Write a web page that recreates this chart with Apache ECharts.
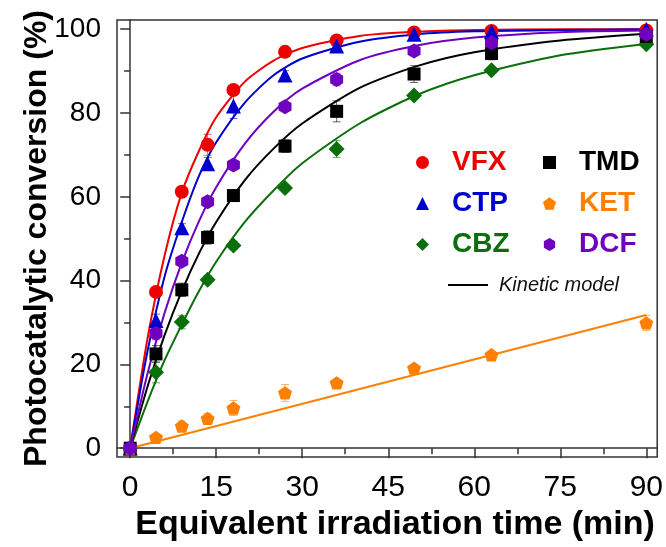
<!DOCTYPE html>
<html>
<head>
<meta charset="utf-8">
<script src="https://cdn.jsdelivr.net/npm/echarts@6/dist/echarts.min.js"></script>
<style>
  html, body { margin: 0; padding: 0; background: #fff; }
  #chart { width: 666px; height: 547px; }
</style>
</head>
<body>
<div id="chart"></div>
<script>
// sampling times (min)
const times = [0, 4.5, 9, 13.5, 18, 27, 36, 49.5, 63, 90]

// measured conversion (%)
const vfx = [0, 37.3, 61.2, 72.4, 85.5, 94.6, 97.3, 99.2, 99.6, 99.7]
const ctp = [0, 30.5, 52.6, 67.9, 81.7, 89.1, 96.0, 98.8, 99.4, 100]
const tmd = [0, 22.5, 37.8, 50.3, 60.3, 72.1, 80.4, 89.3, 94.2, 98.3]
const cbz = [0, 18.1, 30.1, 40.2, 48.4, 62.1, 71.4, 84.2, 90.2, 96.4]
const ket = [0, 2.6, 5.3, 7.1, 9.6, 13.2, 15.6, 19.1, 22.3, 29.9]
const dcf = [0, 27.4, 44.6, 58.8, 67.6, 81.5, 88.0, 94.8, 96.8, 98.8]

// error bars (+/-)
const vfxErr = [0, 0.8, 1, 2.5, 1, 0.6, 0.5, 0.3, 0.3, 0.3]
const ctpErr = [0, 1.5, 1, 1.5, 3, 1, 0.6, 0.3, 0.3, 0.3]
const tmdErr = [0, 2, 1.6, 1.6, 1, 1.5, 2.5, 2, 1.5, 0.5]
const cbzErr = [0, 2.5, 1.6, 1, 1, 0.6, 2, 0.5, 0.5, 0.5]
const ketErr = [0, 0.5, 1.2, 1.2, 1.8, 2, 0.5, 0.5, 0.5, 1.8]
const dcfErr = [0, 1.5, 1, 1, 1, 1, 1.5, 1, 0.5, 0.5]

// kinetic model curves
const modelTimes = [0, 3, 6, 9, 12, 15, 20, 25, 30, 40, 50, 60, 75, 90]
const vfxModel = [0, 26, 46, 61, 71, 79, 87.5, 92.5, 95.5, 98.4, 99.4, 99.8, 100, 100]
const ctpModel = [0, 23, 41, 54, 65, 73, 82.5, 89, 93, 97, 98.8, 99.5, 99.8, 100]
const tmdModel = [0, 14.6, 27, 37.5, 46.5, 54, 64, 71.5, 77.5, 86, 91.2, 94.5, 97.3, 98.9]
const cbzModel = [0, 11, 21, 29.5, 37.5, 44.5, 54, 61.5, 68, 77.5, 84.3, 89, 93.8, 96.5]
const dcfModel = [0, 17.7, 32.3, 44.3, 54.2, 62.3, 72.7, 80.3, 85.8, 92.6, 96.1, 98, 99.3, 99.7]
const ketModelTimes = [0, 90]
const ketModel = [0, 31.8]

// axis ticks
const xTicks = [0, 15, 30, 45, 60, 75, 90]
const xMinorTicks = [7.5, 22.5, 37.5, 52.5, 67.5, 82.5]
const yTicks = [0, 20, 40, 60, 80, 100]
const yMinorTicks = [10, 30, 50, 70, 90]

const FONT = "'Liberation Sans', Arial, sans-serif"
const AXIS_COLOR = '#333'

const pentagon = 'path://M0,-1 L0.951,-0.309 L0.588,0.809 L-0.588,0.809 L-0.951,-0.309 Z'
const hexagon = 'path://M0,-1 L0.866,-0.5 L0.866,0.5 L0,1 L-0.866,0.5 L-0.866,-0.5 Z'

const groups = [
  { name: 'VFX', color: '#ee0000', symbol: 'circle', size: 14, vals: vfx, errs: vfxErr, model: vfxModel },
  { name: 'CTP', color: '#0000cc', symbol: 'triangle', size: 15, vals: ctp, errs: ctpErr, model: ctpModel },
  { name: 'CBZ', color: '#0a6e0a', symbol: 'diamond', size: 16, vals: cbz, errs: cbzErr, model: cbzModel },
  { name: 'TMD', color: '#000000', symbol: 'rect', size: 13, vals: tmd, errs: tmdErr, model: tmdModel },
  { name: 'KET', color: '#ff8000', symbol: pentagon, size: 14, vals: ket, errs: ketErr, model: null },
  { name: 'DCF', color: '#7000c0', symbol: hexagon, size: 15, vals: dcf, errs: dcfErr, model: dcfModel },
]

const errRenderer = (color) => (params, api) => {
  const x = api.value(0)
  const y = api.value(1)
  const e = api.value(2)
  if (!e) return null
  const top = api.coord([x, y + e])
  const bot = api.coord([x, y - e])
  const w = 4
  const style = { stroke: color, lineWidth: 1, opacity: 0.6 }
  return {
    type: 'group',
    children: [
      { type: 'line', shape: { x1: top[0], y1: top[1], x2: bot[0], y2: bot[1] }, style },
      { type: 'line', shape: { x1: top[0] - w, y1: top[1], x2: top[0] + w, y2: top[1] }, style },
      { type: 'line', shape: { x1: bot[0] - w, y1: bot[1], x2: bot[0] + w, y2: bot[1] }, style },
    ],
  }
}

const series = []
groups.forEach((g) => {
  const modelT = g.model ? modelTimes : ketModelTimes
  const modelV = g.model ? g.model : ketModel
  series.push({
    name: g.name + ' model',
    type: 'line',
    data: modelT.map((t, i) => [t, modelV[i]]),
    smooth: g.model ? 0.25 : false,
    showSymbol: false,
    lineStyle: { color: g.color, width: 2 },
    z: 2,
    silent: true,
  })
  series.push({
    name: g.name + ' err',
    type: 'custom',
    renderItem: errRenderer(g.color),
    data: times.map((t, i) => [t, g.vals[i], g.errs[i]]),
    z: 3,
    silent: true,
  })
  series.push({
    name: g.name,
    type: 'scatter',
    symbol: g.symbol,
    symbolSize: g.size,
    symbolKeepAspect: true,
    data: times.map((t, i) => [t, g.vals[i]]),
    itemStyle: { color: g.color, opacity: 1 },
    z: 4,
  })
})
series.push({
  name: 'Kinetic model',
  type: 'line',
  data: [],
  lineStyle: { color: '#000', width: 2 },
  itemStyle: { color: '#000' },
})

const legendItem = (name, color) => ({ name, textStyle: { color } })
const legendBase = {
  orient: 'vertical',
  itemWidth: 13,
  itemHeight: 13,
  itemGap: 8,
  textStyle: { fontFamily: FONT, fontWeight: 'bold', fontSize: 28, lineHeight: 33, padding: [0, 0, 0, 18] },
  selectedMode: false,
}

const chart = echarts.init(document.getElementById('chart'), null, { renderer: 'canvas' })
chart.setOption({
  animation: false,
  backgroundColor: '#fff',
  grid: {
    left: 117,
    right: 8,
    top: 20,
    bottom: 90,
    show: true,
    borderColor: AXIS_COLOR,
    borderWidth: 1.5,
  },
  legend: [
    Object.assign({}, legendBase, {
      left: 411,
      top: 141,
      data: [legendItem('VFX', '#ee0000'), legendItem('CTP', '#0000cc'), legendItem('CBZ', '#0a6e0a')],
    }),
    Object.assign({}, legendBase, {
      left: 538,
      top: 141,
      data: [legendItem('TMD', '#000000'), legendItem('KET', '#ff8000'), legendItem('DCF', '#7000c0')],
    }),
    {
      left: 443,
      top: 270,
      icon: 'rect',
      itemWidth: 40,
      itemHeight: 2,
      selectedMode: false,
      textStyle: { fontFamily: FONT, fontStyle: 'italic', fontSize: 20, color: '#111', padding: [0, 0, 0, 6] },
      data: ['Kinetic model'],
    },
  ],
  xAxis: [
    {
      type: 'value',
      min: -2.3,
      max: 91.9,
      name: 'Equivalent irradiation time (min)',
      nameLocation: 'middle',
      nameGap: 46,
      nameTextStyle: { fontFamily: FONT, fontWeight: 'bold', fontSize: 34, color: '#000', padding: [0, 0, 0, 16] },
      splitLine: { show: false },
      axisLine: { lineStyle: { color: AXIS_COLOR, width: 1.5 } },
      axisTick: { customValues: xTicks, length: 10, lineStyle: { color: AXIS_COLOR, width: 1.5 } },
      axisLabel: { customValues: xTicks, margin: 16, fontFamily: FONT, fontSize: 30, color: '#000' },
    },
    {
      type: 'value',
      min: -2.3,
      max: 91.9,
      position: 'bottom',
      splitLine: { show: false },
      axisLine: { show: false },
      axisTick: { customValues: xMinorTicks, length: 6, lineStyle: { color: AXIS_COLOR, width: 1.5 } },
      axisLabel: { show: false },
    },
  ],
  yAxis: [
    {
      type: 'value',
      min: -2.1,
      max: 102.2,
      name: 'Photocatalytic conversion (%)',
      nameLocation: 'middle',
      nameGap: 64,
      nameMoveOverlap: false,
      nameTextStyle: { fontFamily: FONT, fontWeight: 'bold', fontSize: 32, color: '#000' },
      splitLine: { show: false },
      axisLine: { lineStyle: { color: AXIS_COLOR, width: 1.5 } },
      axisTick: { customValues: yTicks, length: 10, lineStyle: { color: AXIS_COLOR, width: 1.5 } },
      axisLabel: { customValues: yTicks, margin: 16, fontFamily: FONT, fontSize: 28, color: '#000' },
    },
    {
      type: 'value',
      min: -2.1,
      max: 102.2,
      position: 'left',
      splitLine: { show: false },
      axisLine: { show: false },
      axisTick: { customValues: yMinorTicks, length: 6, lineStyle: { color: AXIS_COLOR, width: 1.5 } },
      axisLabel: { show: false },
    },
  ],
  series,
})
</script>
</body>
</html>
